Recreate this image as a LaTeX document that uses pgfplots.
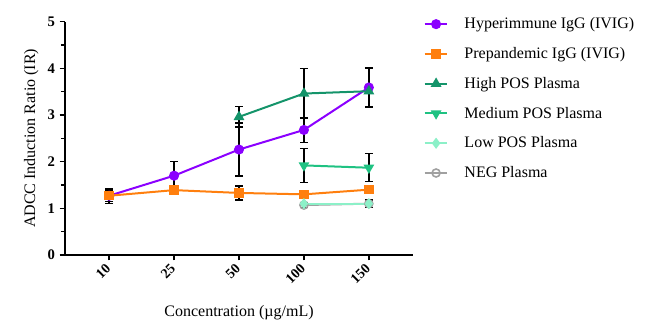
\documentclass[border=0pt]{standalone}
\usepackage{pgfplots}
\pgfplotsset{compat=1.18}
\usepackage{fontspec}
\setmainfont{Liberation Serif}
\definecolor{cHyp}{HTML}{8B00FF}
\definecolor{cPre}{HTML}{FF7F0E}
\definecolor{cHigh}{HTML}{14946A}
\definecolor{cMed}{HTML}{1FC282}
\definecolor{cLow}{HTML}{8CF0C8}
\definecolor{cNeg}{HTML}{A0A0A0}
\begin{document}
\begin{tikzpicture}
\useasboundingbox (-48.75pt,-49.5pt) rectangle (445.5pt,191.25pt);
\begin{axis}[
  at={(0,0)}, anchor=south west,
  scale only axis, width=261pt, height=175pt,
  xmin=-0.68, xmax=4.68, ymin=0, ymax=5,
  axis x line*=bottom, axis y line*=left,
  axis line style={line width=1.5pt, -},
  xtick={0,1,2,3,4}, xticklabels={10,25,50,100,150},
  ytick={0,1,2,3,4,5}, minor ytick={0.5,1.5,2.5,3.5,4.5},
  tick align=outside, tick style={black, line width=1.2pt},
  major tick length=4pt, minor tick length=3pt,
  xticklabel style={rotate=45, anchor=east, font=\bfseries\fontsize{10.5}{12}\selectfont, inner sep=1pt},
  xticklabel shift=4pt,
  yticklabel style={font=\bfseries\fontsize{11}{12}\selectfont},
  /pgf/number format/assume math mode=true,
  xlabel={Concentration (µg/mL)},
  ylabel={ADCC Induction Ratio (IR)},
  label style={font=\fontsize{12}{14}\selectfont},
  xlabel style={yshift=-10pt},
  clip=false,
  legend style={at={(1.03,1.03)}, anchor=north west, draw=none, fill=none,
    font=\fontsize{12}{14}\selectfont, row sep=8.5pt, inner sep=0pt},
  legend cell align=left,
  every axis plot/.append style={line width=1.5pt},
  error bars/error bar style={black, line width=1pt},
  error bars/error mark options={black, line width=1pt, rotate=90, mark size=3pt},
]
\addplot[cHyp, mark=*, mark size=3pt, error bars/.cd, y dir=both, y explicit]
  table[x=x, y=y, y error=e] {
x y e
0 1.27 0.16
1 1.70 0.31
2 2.26 0.57
3 2.68 0.27
4 3.59 0.42
};
\addlegendentry{\hspace*{10pt}Hyperimmune IgG (IVIG)}
\addplot[cPre, mark=square*, mark size=2.8pt, error bars/.cd, y dir=both, y explicit]
  table[x=x, y=y, y error=e] {
x y e
0 1.27 0.12
1 1.39 0.04
2 1.33 0.15
3 1.30 0.04
4 1.40 0.04
};
\addlegendentry{\hspace*{10pt}Prepandemic IgG (IVIG)}
\addplot[cHigh, mark=triangle*, mark size=3.2pt, error bars/.cd, y dir=both, y explicit]
  table[x=x, y=y, y error=e] {
x y e
2 2.96 0.22
3 3.46 0.53
4 3.51 0.05
};
\addlegendentry{\hspace*{10pt}High POS Plasma}
\addplot[cMed, mark=triangle*, mark options={rotate=180}, mark size=3.2pt, error bars/.cd, y dir=both, y explicit]
  table[x=x, y=y, y error=e] {
x y e
3 1.92 0.36
4 1.87 0.30
};
\addlegendentry{\hspace*{10pt}Medium POS Plasma}
\addplot[cNeg, mark=o, mark size=3pt, mark options={line width=1.2pt}, forget plot, error bars/.cd, y dir=both, y explicit]
  table[x=x, y=y, y error=e] {
x y e
3 1.07 0.05
4 1.10 0.08
};
\addplot[cLow, mark=diamond*, mark size=3pt, error bars/.cd, y dir=both, y explicit]
  table[x=x, y=y, y error=e] {
x y e
3 1.10 0.03
4 1.10 0.03
};
\addlegendentry{\hspace*{10pt}Low POS Plasma}
\addlegendimage{cNeg, line width=1.5pt, mark=o, mark size=3pt, mark options={line width=1.2pt}}
\addlegendentry{\hspace*{10pt}NEG Plasma}
\end{axis}
\end{tikzpicture}
\end{document}
